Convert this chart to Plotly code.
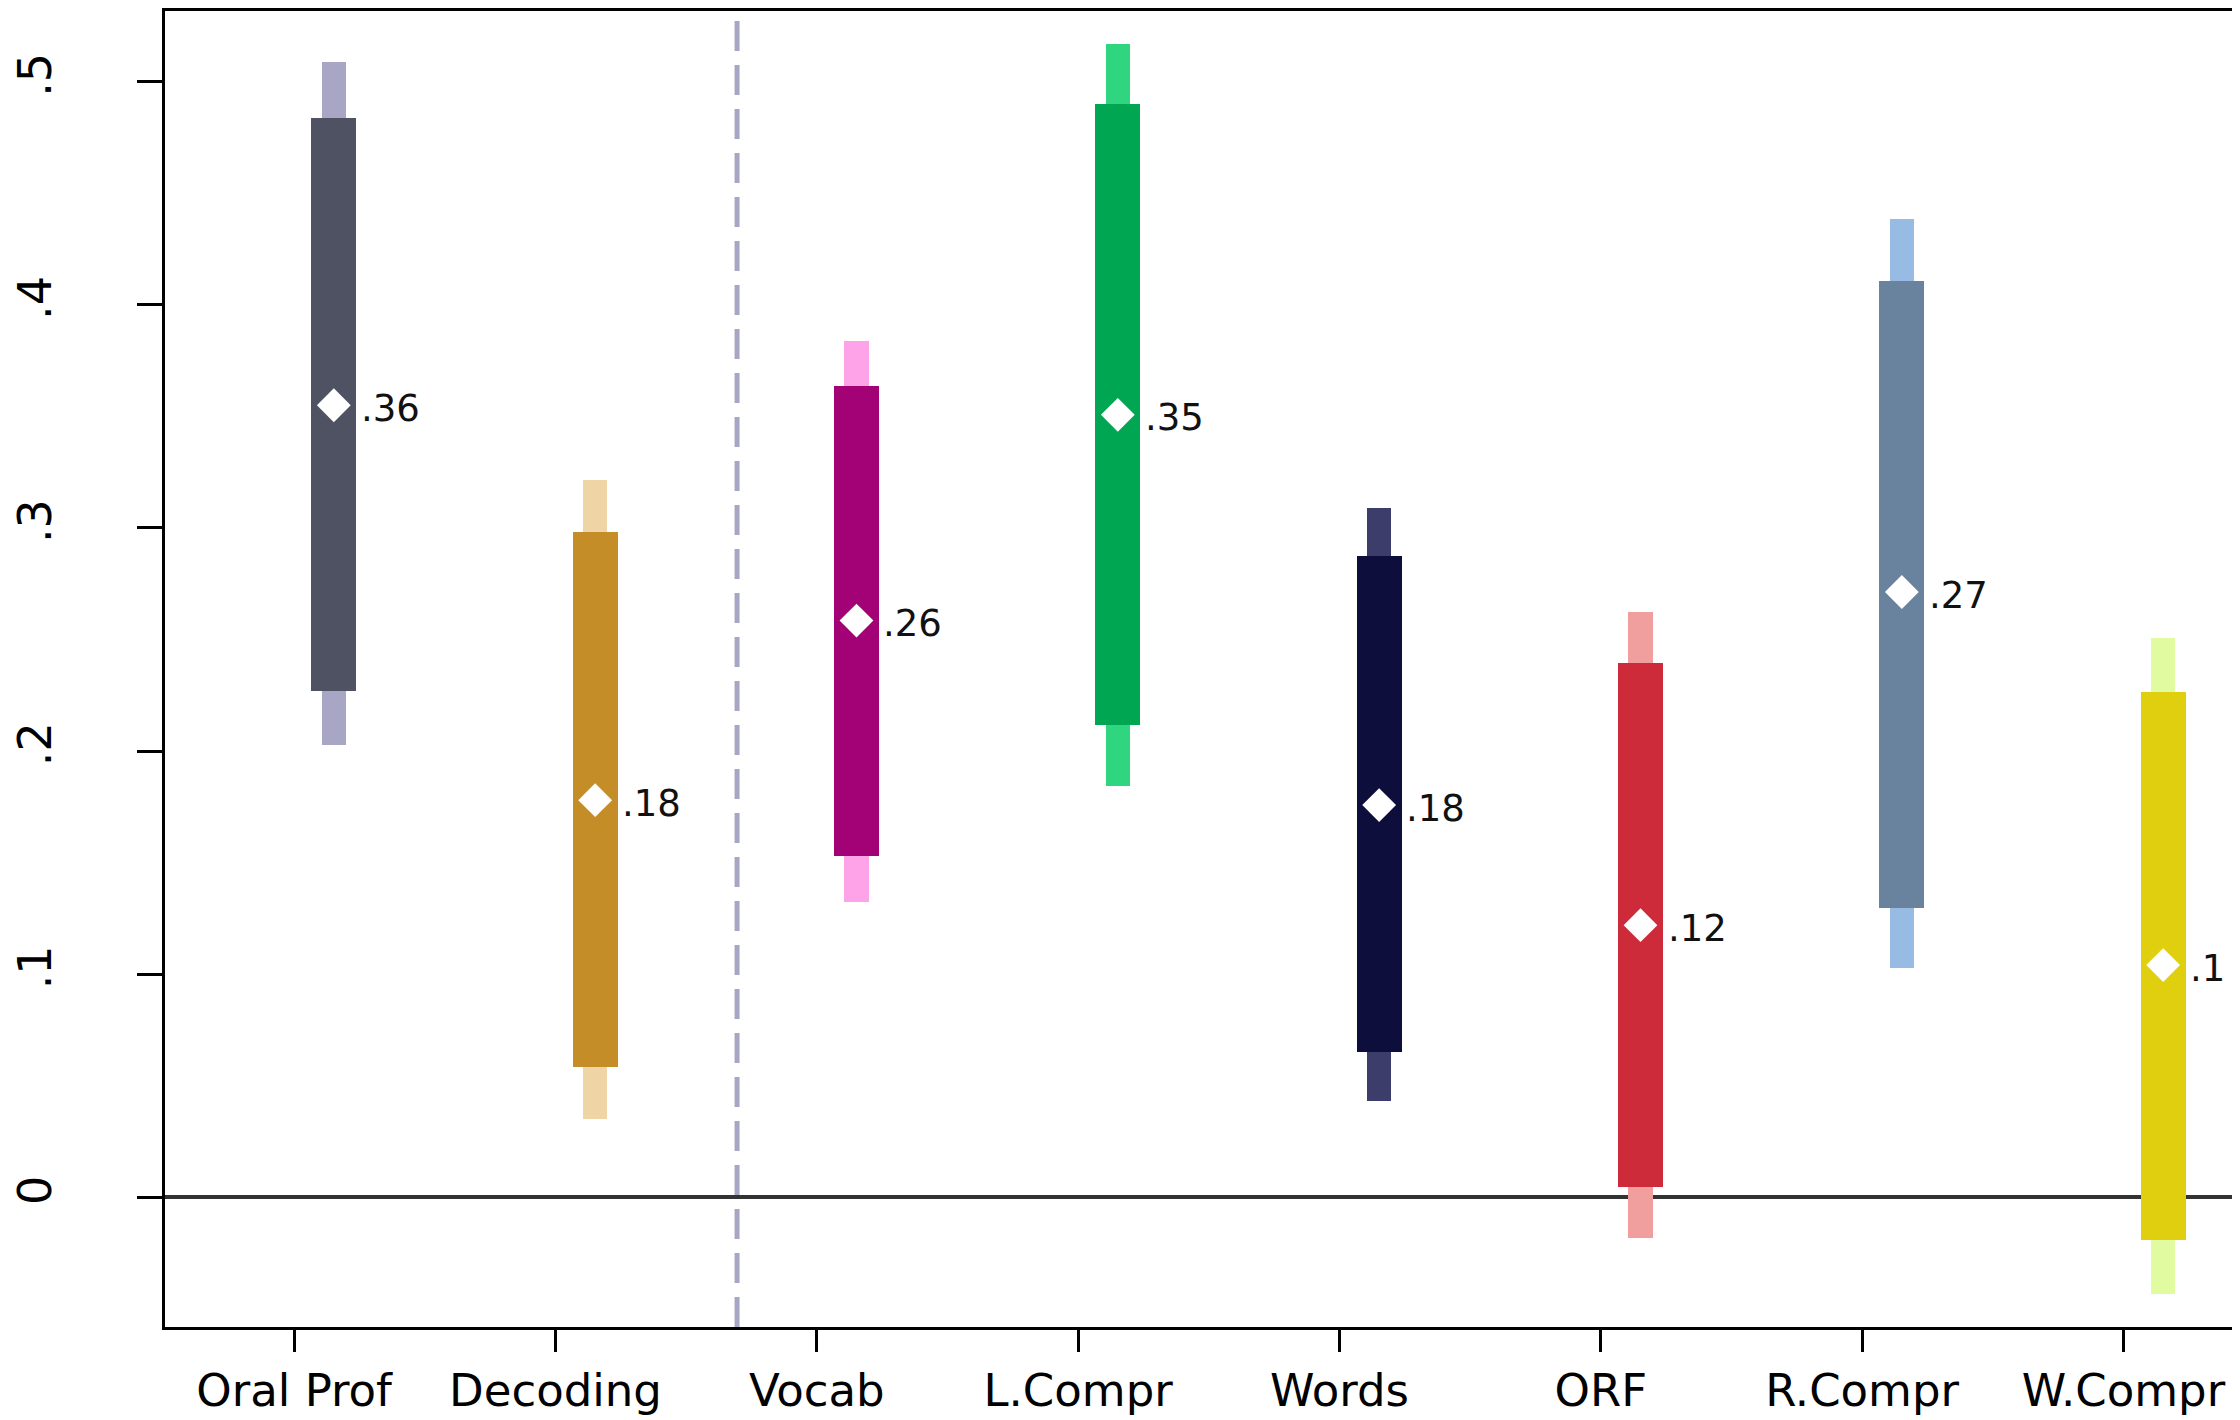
import plotly.graph_objects as go

# ---- data ----
categories = ["Oral Prof", "Decoding", "Vocab", "L.Compr", "Words", "ORF", "R.Compr", "W.Compr"]
point = [0.355, 0.178, 0.2585, 0.3507, 0.1758, 0.122, 0.2713, 0.1041]
point_labels = [".36", ".18", ".26", ".35", ".18", ".12", ".27", ".1"]
ci_inner_low = [0.2271, 0.0586, 0.1528, 0.2118, 0.0650, 0.0048, 0.1297, -0.0189]
ci_inner_high = [0.4837, 0.2982, 0.3636, 0.4898, 0.2873, 0.2393, 0.4109, 0.2265]
ci_outer_low = [0.2028, 0.0349, 0.1323, 0.1842, 0.0432, -0.0183, 0.1028, -0.0432]
ci_outer_high = [0.5088, 0.3213, 0.3840, 0.5167, 0.3091, 0.2623, 0.4385, 0.2508]
y_tick_vals = [0, 0.1, 0.2, 0.3, 0.4, 0.5]
y_tick_text = ["0", ".1", ".2", ".3", ".4", ".5"]

dark_colors = ["#4F5262", "#C48D28", "#A30276", "#00A651", "#0E0E3D", "#CD2A3A", "#69829E", "#DFCF0E"]
light_colors = ["#A7A6C5", "#EFD5A5", "#FFA3E8", "#30D57F", "#3D3D6B", "#F09E9E", "#98BBE3", "#E1FBA0"]

# ---- layout constants (page body has an 8px margin) ----
W, H = 2232, 1412
offset = 0.152
xs = [i + offset for i in range(len(categories))]
tick_pos = list(range(len(categories)))
separator_x = 1.695

fig = go.Figure()

fig.add_trace(go.Bar(
    x=xs, base=ci_outer_low,
    y=[h - l for h, l in zip(ci_outer_high, ci_outer_low)],
    width=0.094, marker=dict(color=light_colors, line=dict(width=0)),
    hoverinfo="skip", showlegend=False,
))
fig.add_trace(go.Bar(
    x=xs, base=ci_inner_low,
    y=[h - l for h, l in zip(ci_inner_high, ci_inner_low)],
    width=0.171, marker=dict(color=dark_colors, line=dict(width=0)),
    hoverinfo="skip", showlegend=False,
))
fig.add_trace(go.Scatter(
    x=xs, y=point, mode="markers",
    marker=dict(symbol="diamond", size=26, color="white", line=dict(width=0)),
    showlegend=False,
))

for x, y, t in zip(xs, point, point_labels):
    fig.add_annotation(
        x=x, y=y, text=t, showarrow=False, xanchor="left", yanchor="middle",
        xshift=25, yshift=-3,
        font=dict(family="DejaVu Sans", size=37, color="#111111"),
    )

fig.add_shape(
    type="line", xref="x", yref="paper", x0=separator_x, x1=separator_x, y0=0, y1=1,
    line=dict(color="#A7A6C5", width=5, dash="30px,14px"), layer="below",
)

fig.update_layout(
    width=W, height=H, autosize=False,
    margin=dict(l=154, r=0, t=3, b=93),
    paper_bgcolor="white", plot_bgcolor="white",
    barmode="overlay", bargap=0,
    showlegend=False,
)

fig.update_xaxes(
    range=[-0.494, 7.446],
    tickmode="array", tickvals=tick_pos, ticktext=categories,
    ticks="outside", ticklen=22, tickwidth=2.5, tickcolor="black",
    showline=True, linecolor="black", linewidth=3, mirror=True,
    showgrid=False, zeroline=False,
    tickfont=dict(family="DejaVu Sans", size=45, color="black"),
)
fig.update_yaxes(
    range=[-0.0581, 0.5317],
    tickmode="array", tickvals=y_tick_vals, ticktext=y_tick_text,
    ticks="outside", ticklen=25, tickwidth=2.5, tickcolor="black",
    showline=True, linecolor="black", linewidth=3, mirror=False,
    showgrid=False,
    zeroline=True, zerolinecolor="#333333", zerolinewidth=4,
    tickangle=-90, ticklabelstandoff=68,
    tickfont=dict(family="DejaVu Sans", size=46, color="black"),
)

fig.write_html("out.html")
